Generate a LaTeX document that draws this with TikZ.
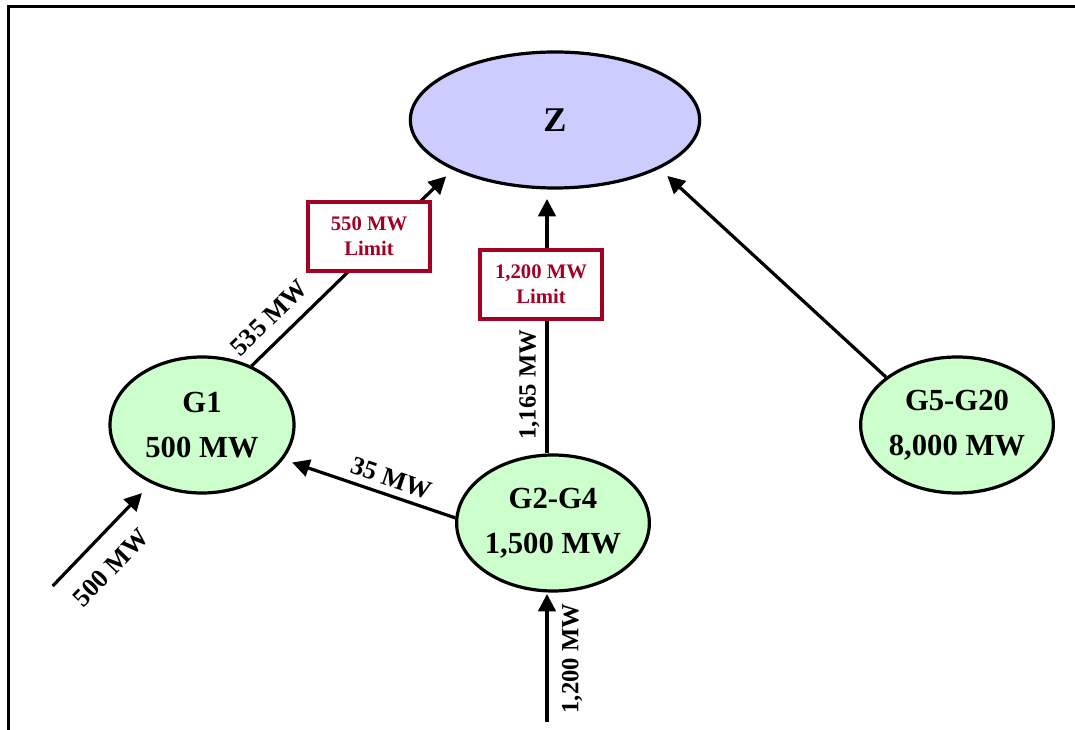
\documentclass[tikz,border=0pt]{standalone}
\usepackage{fontspec}
\setmainfont{Liberation Serif}
\usetikzlibrary{shapes.geometric,arrows.meta,calc}
\definecolor{zfill}{RGB}{204,204,255}
\definecolor{gfill}{RGB}{204,255,204}
\definecolor{limred}{RGB}{163,0,38}
\tikzset{
  gnode/.style={ellipse, draw=black, line width=2.4pt, fill=gfill, inner sep=0pt,
    minimum width=138pt, minimum height=102pt, align=center,
    font=\fontsize{23}{33.5}\selectfont\bfseries},
  znode/.style={ellipse, draw=black, line width=2.4pt, fill=zfill, inner sep=0pt,
    minimum width=217pt, minimum height=102pt,
    font=\fontsize{26}{30}\selectfont\bfseries},
  limbox/.style={draw=limred, line width=3pt, fill=white, text=limred, align=center,
    minimum width=92pt, minimum height=52pt, inner sep=0pt,
    font=\fontsize{15.5}{19}\selectfont\bfseries},
  flow/.style={line width=2.4pt, -{Triangle[length=13pt,width=13pt]}},
  flowlab/.style={font=\fontsize{19.5}{21}\selectfont\bfseries, inner sep=2pt},
  flowlabl/.style={font=\fontsize{18.5}{20}\selectfont\bfseries, inner sep=2pt},
  frame/.style={line width=2.6pt}
}
\begin{document}
\begin{tikzpicture}[x=0.75pt,y=-0.75pt]
\useasboundingbox (0,0) rectangle (1075,730);
% frame
\coordinate (fl) at (7,6.5);
\coordinate (fr) at (1075,6.5);
\coordinate (ft) at (8.5,5);
\coordinate (fb) at (8.5,730);
\draw[frame] (fr) -- (fl);
\draw[frame] (ft) -- (fb);
% nodes
\node[znode] (Z) at (555,120) {Z};
\node[gnode] (G1) at (202,425) {G1\\500 MW};
\node[gnode] (G24) at (553,523) {G2-G4\\1,500 MW};
\node[gnode] (G520) at (957,425) {G5-G20\\8,000 MW};
\coordinate (in1) at (52.7,586);
\coordinate (in2) at (547,722);
% connectors
\draw[flow, shorten >=7pt] (G1.50) -- node[flowlab, sloped, above=7pt, pos=0.165] {535 MW} (Z.206);
\node[limbox] (L1) at (369,236.5) {550 MW\\Limit};
\draw[flow, shorten >=7pt] ($(G24.north)+(-6,0)$) -- node[flowlabl, sloped, above=2.5pt, pos=0.26] {1,165 MW} ($(Z.south)+(-8,0)$);
\node[limbox] (L2) at (541,284.5) {1,200 MW\\Limit};
\draw[flow, shorten >=8pt] (G520.146) -- (Z.335);
\draw[flow, shorten <=7pt, {Triangle[length=13pt,width=13pt]}-] (G1.337) -- node[flowlab, sloped, above=3pt, pos=0.595] {35 MW} (G24.177);
\draw[flow, shorten >=10pt] (in1) -- node[flowlab, sloped, below=12pt, pos=0.376] {500 MW} (G1.229);
\draw[flow, shorten >=1pt] (in2) -- node[flowlabl, sloped, below=8pt, pos=0.49] {1,200 MW} ($(G24.south)+(-6,0)$);
\end{tikzpicture}
\end{document}
